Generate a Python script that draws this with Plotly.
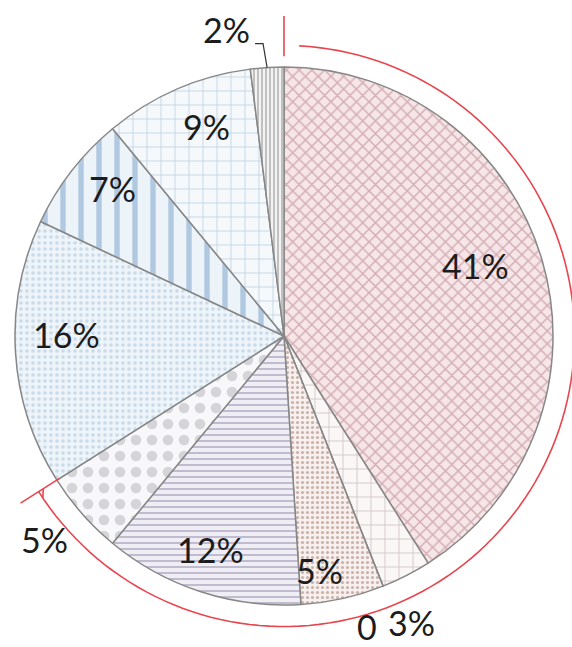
import math
import plotly.graph_objects as go

# ---- data ----
labels = ["A", "B", "C", "D", "E", "F", "G", "H", "I", "J"]
values = [41, 3, 0, 5, 12, 5, 16, 7, 9, 2]
label_text = ["41%", "3%", "0", "5%", "12%", "5%", "16%", "7%", "9%", "2%"]
bracket_count = 6  # first six slices are bracketed by the red arc

# ---- styles ----
patterns = [
    dict(shape="x", size=9, solidity=0.3, fgcolor="#d2adb4", bgcolor="#f7e6e8"),
    dict(shape="+", size=14, solidity=0.12, fgcolor="#cfc6c6", bgcolor="#fbf7f7"),
    dict(shape="", fgcolor="#ffffff", bgcolor="#ffffff"),
    dict(shape=".", size=5, solidity=0.3, fgcolor="#c8b2aa", bgcolor="#f8f0ee"),
    dict(shape="-", size=6, solidity=0.3, fgcolor="#bdb6cc", bgcolor="#f0eef5"),
    dict(shape=".", size=16, solidity=0.35, fgcolor="#d4d4d9", bgcolor="#f8f8fa"),
    dict(shape=".", size=6, solidity=0.28, fgcolor="#c9dae9", bgcolor="#eef5fa"),
    dict(shape="|", size=18, solidity=0.3, fgcolor="#b0c8e0", bgcolor="#ecf3f9"),
    dict(shape="+", size=14, solidity=0.12, fgcolor="#c2d2e2", bgcolor="#f5f9fc"),
    dict(shape="|", size=4, solidity=0.4, fgcolor="#b4b4b4", bgcolor="#f3f3f3"),
]
label_radius = [0.76, 1.167, 1.124, 0.88, 0.84, 1.17, 0.81, 0.84, 0.83, 1.16]
label_shift = [-4, 3.0, 5.7, 4, 1, 1, 4, 3, 3, -7]

W, H = 572, 647
CX, CY, R = 284, 336, 269     # page pixel geometry


def to_paper(angle_deg, r):
    a = math.radians(angle_deg)
    px = CX + r * math.sin(a)
    py = CY - r * math.cos(a)
    return px / W, 1 - py / H


fig = go.Figure(go.Pie(
    labels=labels,
    values=values,
    sort=False,
    direction="clockwise",
    rotation=0,
    textinfo="none",
    hoverinfo="skip",
    showlegend=False,
    marker=dict(
        colors=[p["bgcolor"] for p in patterns],
        pattern=dict(
            shape=[p["shape"] for p in patterns],
            size=[p.get("size", 8) for p in patterns],
            solidity=[p.get("solidity", 0.3) for p in patterns],
            fgcolor=[p["fgcolor"] for p in patterns],
            bgcolor=[p["bgcolor"] for p in patterns],
        ),
        line=dict(color="#878787", width=1.5),
    ),
    domain=dict(x=[(CX - R) / W, (CX + R) / W],
                y=[1 - (CY + R) / H, 1 - (CY - R) / H]),
))

total = sum(values)
cum = 0
annotations = []
for v, t, rf, sh in zip(values, label_text, label_radius, label_shift):
    mid = (cum + v / 2) / total * 360
    x, y = to_paper(mid + sh, R * rf)
    annotations.append(dict(x=x, y=y, xref="paper", yref="paper", text=t, showarrow=False,
                            xanchor="center", yanchor="middle",
                            font=dict(family="Lato", size=34, color="#1c1c1c")))
    cum += v

# red bracket arc spanning first slices
RED = "#e8464f"
end_angle = sum(values[:bracket_count]) / total * 360
start_angle = 3
pts = []
n = 120
for i in range(n + 1):
    a = start_angle + (end_angle - start_angle) * i / n
    pts.append(to_paper(a, R * 1.08))
path = "M " + " L ".join(f"{x:.5f},{y:.5f}" for x, y in pts)
shapes = [dict(type="path", path=path, xref="paper", yref="paper",
               line=dict(color=RED, width=1.6))]
for ang, r0, r1 in [(0, 1.04, 1.19), (end_angle, 0.99, 1.16)]:
    x0, y0 = to_paper(ang, R * r0)
    x1, y1 = to_paper(ang, R * r1)
    shapes.append(dict(type="line", x0=x0, y0=y0, x1=x1, y1=y1, xref="paper", yref="paper",
                       line=dict(color=RED, width=1.6)))
xa, ya = to_paper(end_angle - 1.5, R * 1.08)
xb, yb = to_paper(end_angle, R * 1.06)
shapes.append(dict(type="line", x0=xa, y0=ya, x1=xb, y1=yb, xref="paper", yref="paper",
                   line=dict(color=RED, width=1.6)))

# leader line for last (small) slice label
mid_last = (total - values[-1] / 2) / total * 360
ex, ey = to_paper(mid_last, R)
kx, ky = to_paper(mid_last - 0.5, R * 1.09)
lx = kx - 8 / W
shapes.append(dict(type="path", path=f"M {ex:.5f},{ey:.5f} L {kx:.5f},{ky:.5f} L {lx:.5f},{ky:.5f}",
                   xref="paper", yref="paper", line=dict(color="#333333", width=1.2)))

fig.update_layout(
    width=W, height=H,
    margin=dict(l=0, r=0, t=0, b=0),
    paper_bgcolor="white",
    plot_bgcolor="white",
    annotations=annotations,
    shapes=shapes,
)

fig.write_html("out.html",
               config={"displayModeBar": False},
               post_script="document.body.style.margin='0px';document.body.style.overflow='hidden';")
